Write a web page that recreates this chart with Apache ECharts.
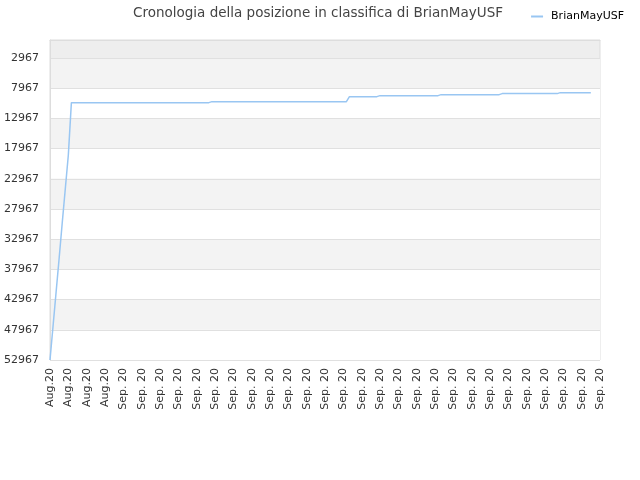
<!DOCTYPE html>
<html>
<head>
<meta charset="utf-8">
<script src="https://cdn.jsdelivr.net/npm/echarts@6/dist/echarts.min.js"></script>
<style>html,body{margin:0;padding:0;background:#fff}#c{width:640px;height:480px}</style>
</head>
<body>
<div id="c"></div>
<script>
const tickLabels = ["Aug.20","Aug.20","Aug.20","Aug.20","Sep. 20","Sep. 20","Sep. 20","Sep. 20","Sep. 20","Sep. 20","Sep. 20","Sep. 20","Sep. 20","Sep. 20","Sep. 20","Sep. 20","Sep. 20","Sep. 20","Sep. 20","Sep. 20","Sep. 20","Sep. 20","Sep. 20","Sep. 20","Sep. 20","Sep. 20","Sep. 20","Sep. 20","Sep. 20","Sep. 20","Sep. 20"];
const yTicks = [2967,7967,12967,17967,22967,27967,32967,37967,42967,47967,52967];
const ranks = [
52967,47337,41712,36080,30290,24656,19027,10367,
10367,10367,10367,10367,10367,10367,10367,10367,10367,10367,10367,10367,10367,10367,10367,
10367,10367,10367,10367,10367,10367,10367,10367,10367,10367,10367,10367,10367,10367,10367,
10367,10367,10367,10367,10367,10367,10367,10367,10367,10367,10367,10367,10367,10367,10367,
10201,10201,10201,10201,10201,10201,10201,10201,10201,10201,10201,10201,10201,10201,10201,
10201,10201,10201,10201,10201,10201,10201,10201,10201,10201,10201,10201,10201,10201,10201,
10201,10201,10201,10201,10201,10201,10201,10201,10201,10201,10201,10201,10201,10201,10201,
9373,9373,9373,9373,9373,9373,9373,9373,9373,9373,
9208,9208,9208,9208,9208,9208,9208,9208,9208,9208,9208,9208,9208,9208,9208,9208,9208,9208,9208,9208,
9042,9042,9042,9042,9042,9042,9042,9042,9042,9042,9042,9042,9042,9042,9042,9042,9042,9042,9042,9042,
8876,8876,8876,8876,8876,8876,8876,8876,8876,8876,8876,8876,8876,8876,8876,8876,8876,8876,8876,
8711,8711,8711,8711,8711,8711,8711,8711,8711,8711,8711
];
const pointsPerTick = 6;
const categories = [];
for (let i = 0; i < (tickLabels.length - 1) * pointsPerTick + 1; i++) categories.push(String(i));

const chart = echarts.init(document.getElementById('c'));
chart.setOption({
  animation: false,
  title: {
    text: 'Cronologia della posizione in classifica di BrianMayUSF',
    left: 313, top: 1, textAlign: 'center',
    textStyle: { fontSize: 13.5, fontWeight: 'normal', color: '#444', fontFamily: 'DejaVu Sans' }
  },
  legend: {
    right: 11, top: 6, icon: 'rect', itemWidth: 12, itemHeight: 2, itemGap: 6,
    textStyle: { fontSize: 11, color: '#000', fontFamily: 'DejaVu Sans', padding: [0, 0, 0, 3] },
    data: ['BrianMayUSF']
  },
  grid: { left: 50, right: 40, top: 40, bottom: 120, show: true, backgroundColor: '#eeeeee', borderColor: '#dddddd', borderWidth: 1 },
  xAxis: {
    type: 'category', data: categories, boundaryGap: false,
    axisLine: { show: true, lineStyle: { color: '#dddddd' } },
    axisTick: { show: false },
    splitLine: { show: false },
    axisLabel: {
      interval: pointsPerTick - 1, rotate: 90, fontSize: 11, color: '#333', margin: 8, fontFamily: 'DejaVu Sans',
      formatter: (v, i) => tickLabels[Math.round(i / pointsPerTick)] || ''
    }
  },
  yAxis: {
    type: 'value', inverse: true, min: 0, max: 52967,
    axisLine: { show: true, lineStyle: { color: '#dddddd' } },
    axisTick: { show: false, customValues: yTicks },
    axisLabel: { customValues: yTicks, fontSize: 11, color: '#333', margin: 11, fontFamily: 'DejaVu Sans',
      formatter: v => String(v) },
    splitLine: { show: true, lineStyle: { color: '#e0e0e0' } },
    splitArea: { show: true, areaStyle: { color: ['#f3f3f3', '#ffffff'] } }
  },
  series: [{
    name: 'BrianMayUSF', type: 'line', data: ranks, symbol: 'none', showSymbol: false,
    lineStyle: { color: '#99c6f2', width: 1.5 }, itemStyle: { color: '#99c6f2' }
  }]
});
</script>
</body>
</html>
